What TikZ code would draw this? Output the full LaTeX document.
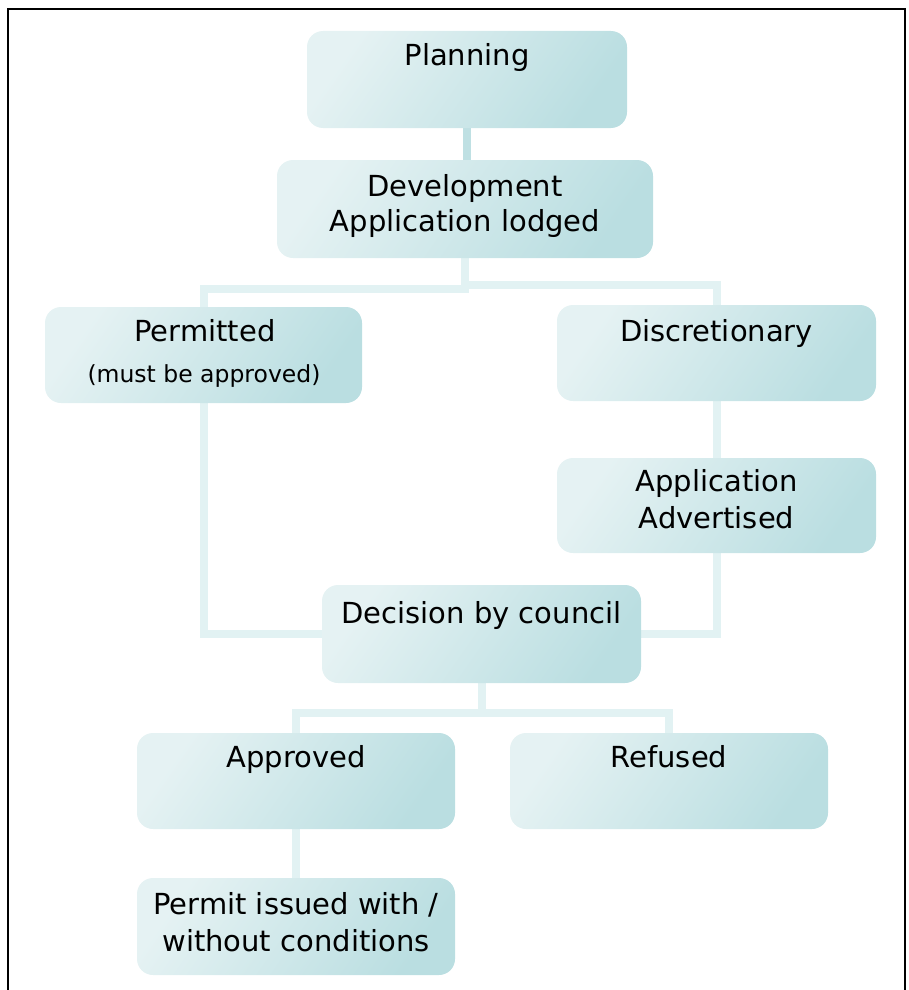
\documentclass[tikz,border=0pt]{standalone}
\usepackage{fontspec}
\setmainfont{DejaVu Sans}
\definecolor{boxlight}{HTML}{E5F2F3}
\definecolor{boxdark}{HTML}{BADEE1}
\definecolor{linklight}{HTML}{E2F2F3}
\definecolor{linkdark}{HTML}{BFE0E3}
\pgfdeclarelayer{bg}
\pgfsetlayers{bg,main}
\begin{document}
\begin{tikzpicture}[x=1pt,y=-1pt,
  box/.style={rectangle, rounded corners=16pt, inner sep=0pt, draw=none,
    top color=boxlight, bottom color=boxdark, shading angle=55},
  lbl/.style={anchor=base, inner sep=0pt, font=\fontsize{29}{35}\selectfont},
  smalllbl/.style={anchor=base, inner sep=0pt, font=\fontsize{23.5}{26}\selectfont},
  link/.style={line width=8pt, draw=linklight},
  linkd/.style={line width=8pt, draw=linkdark},
  frame/.style={line width=2pt, draw=black}]
\useasboundingbox (0,0) rectangle (908,990);
\draw[frame] (8,990) -- (8,9) -- (905,9) -- (905,990);

% boxes
\node[box, minimum width=320pt, minimum height=97pt] (plan) at (467,79.5) {};
\node[box, minimum width=376pt, minimum height=98pt] (dev) at (465,209) {};
\node[box, minimum width=317pt, minimum height=96pt] (perm) at (203.5,355) {};
\node[box, minimum width=319pt, minimum height=96pt] (disc) at (716.5,353) {};
\node[box, minimum width=319pt, minimum height=95pt] (adv) at (716.5,505.5) {};
\node[box, minimum width=319pt, minimum height=98pt] (dec) at (481.5,634) {};
\node[box, minimum width=318pt, minimum height=96pt] (appr) at (296,781) {};
\node[box, minimum width=318pt, minimum height=96pt] (ref) at (669,781) {};
\node[box, minimum width=318pt, minimum height=97pt] (permit) at (296,926.5) {};

% labels
\node[lbl] (planT) at (467,66) {Planning};
\node[lbl] (devT1) at (465,196) {Development};
\node[lbl] (devT2) at (465,231) {Application lodged};
\node[lbl] (permT) at (205,341) {Permitted};
\node[smalllbl] (permT2) at (204,382) {(must be approved)};
\node[lbl] (discT) at (716.5,341) {Discretionary};
\node[lbl] (advT1) at (716.5,491) {Application};
\node[lbl] (advT2) at (716.5,528) {Advertised};
\node[lbl] (decT) at (481.5,623) {Decision by council};
\node[lbl] (apprT) at (296,767) {Approved};
\node[lbl] (refT) at (669,767) {Refused};
\node[lbl] (permitT1) at (296,914) {Permit issued with /};
\node[lbl] (permitT2) at (296,951) {without conditions};

% connectors
\begin{pgfonlayer}{bg}
\draw[linkd] (plan.south) -- (plan.south |- dev.north);
\draw[link] (dev.south) -- ++(0,31) -| (perm.north);
\draw[link] (dev.south) -- ++(0,27) -| (disc.north);
\draw[link] (disc.south) -- (adv.north);
\draw[link] (perm.south) |- (dec.west);
\draw[link] (adv.south) |- (dec.east);
\draw[link] (dec.south) -- ++(0,30) -| (appr.north);
\draw[link] (dec.south) -- ++(0,30) -| (ref.north);
\draw[link] (appr.south) -- (permit.north);
\end{pgfonlayer}
\end{tikzpicture}
\end{document}
